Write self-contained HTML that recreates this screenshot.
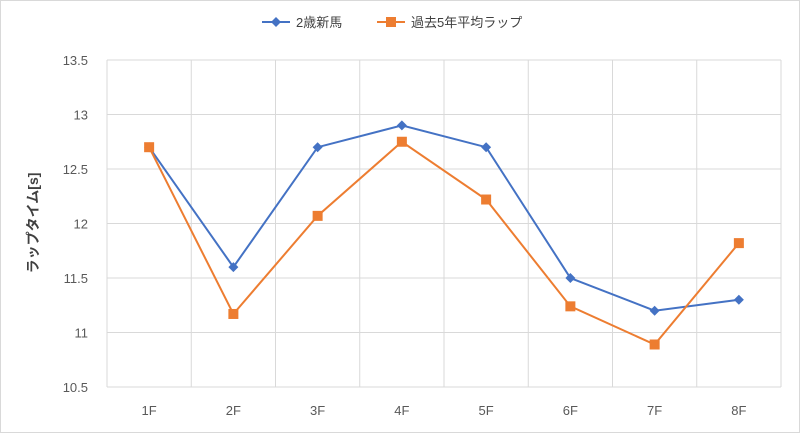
<!DOCTYPE html>
<html><head><meta charset="utf-8"><style>
body{margin:0;background:#fff}
svg{display:block;font-family:"Liberation Sans","Noto Sans CJK JP",sans-serif}
</style></head><body>
<svg id="chart" width="800" height="433">
<rect x="0.5" y="0.5" width="799" height="432" fill="#fff" stroke="#d9d9d9"/>
<g id="grid"></g>
<g id="series"></g>
<g>
 <g>
  <line x1="262" y1="22" x2="290" y2="22" stroke="#4472c4" stroke-width="2"/>
  <path d="M276 17 L281 22 L276 27 L271 22Z" fill="#4472c4"/>
  <text x="296" y="27" font-size="13" fill="#404040">2歳新馬</text>
 </g>
 <g>
  <line x1="377" y1="22" x2="405" y2="22" stroke="#ed7d31" stroke-width="2"/>
  <rect x="386" y="17" width="10" height="10" fill="#ed7d31"/>
  <text x="411" y="27" font-size="13" fill="#404040">過去5年平均ラップ</text>
 </g>
</g>
<text transform="translate(38,223) rotate(-90)" text-anchor="middle" font-size="14" font-weight="bold" fill="#404040">ラップタイム[s]</text>
</svg>
<script>
const categories=["1F","2F","3F","4F","5F","6F","7F","8F"];
const shinba=[12.7,11.6,12.7,12.9,12.7,11.5,11.2,11.3];
const average=[12.7,11.17,12.07,12.75,12.22,11.24,10.89,11.82];
const yTicks=[10.5,11,11.5,12,12.5,13,13.5];
const NS="http://www.w3.org/2000/svg";
const L=107,R=781,T=60,B=387,yMin=10.5,yMax=13.5;
const step=(R-L)/categories.length;
const xs=i=>L+step*(i+0.5);
const ys=v=>B-(v-yMin)/(yMax-yMin)*(B-T);
function mk(tag,attrs,parent){const e=document.createElementNS(NS,tag);for(const k in attrs)e.setAttribute(k,attrs[k]);parent.appendChild(e);return e;}
const grid=document.getElementById('grid');
yTicks.forEach(t=>{
 const l=mk('line',{x1:L,x2:R,y1:ys(t),y2:ys(t),stroke:'#d9d9d9'},grid);
 
 
 const tx=mk('text',{x:88,y:ys(t)+5,'text-anchor':'end','font-size':13,fill:'#595959'},grid);
 tx.textContent=String(t);
 
 
});
for(let i=0;i<=categories.length;i++){
 const l=mk('line',{x1:L+step*i,x2:L+step*i,y1:T,y2:B,stroke:'#d9d9d9'},grid);
 
 
}
categories.forEach((c,i)=>{
 const tx=mk('text',{x:xs(i),y:415,'text-anchor':'middle','font-size':13,fill:'#595959'},grid);
 tx.textContent=c;
 
 
});
const sg=document.getElementById('series');
function draw(data,color,shape,name){
 const p=mk('polyline',{points:data.map((v,i)=>xs(i)+','+ys(v)).join(' '),fill:'none',stroke:color,'stroke-width':2},sg);
 
 
 data.forEach((v,i)=>{
  const x=xs(i),y=ys(v);let m;
  if(shape==='d')m=mk('path',{d:`M${x} ${y-5}L${x+5} ${y}L${x} ${y+5}L${x-5} ${y}Z`,fill:color},sg);
  else m=mk('rect',{x:x-5,y:y-5,width:10,height:10,fill:color},sg);
  
  
 });
}
draw(shinba,'#4472c4','d','shinba');
draw(average,'#ed7d31','s','average');
</script>
</body></html>
